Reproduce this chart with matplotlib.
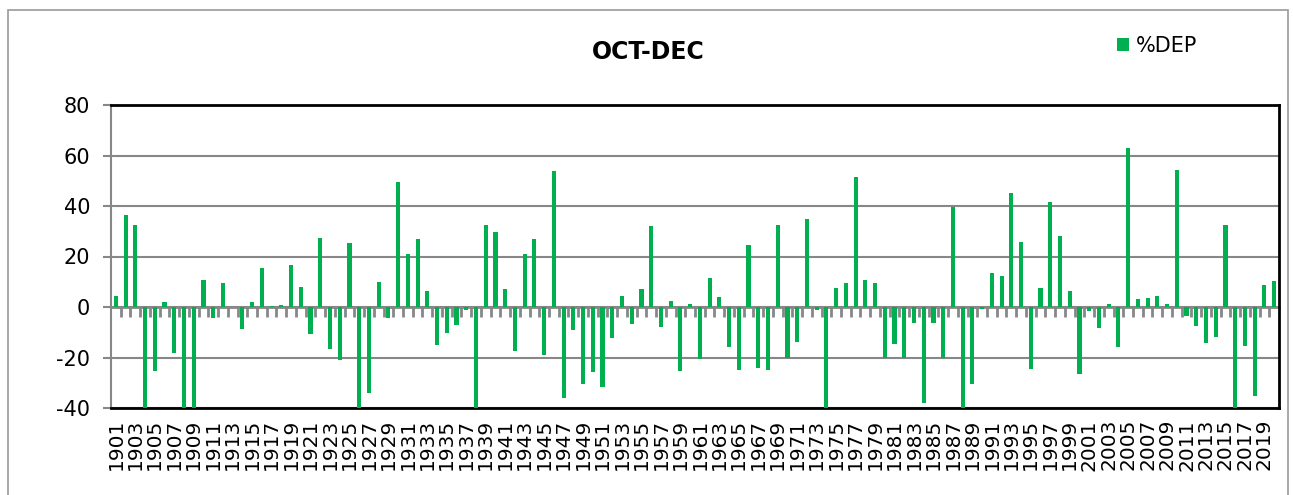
import numpy as np
import matplotlib
matplotlib.use('Agg')
import matplotlib.pyplot as plt
from matplotlib.patches import Rectangle

plt.rcParams['font.family'] = ['DejaVu Sans']
plt.rcParams['axes.unicode_minus'] = False

# OCT-DEC rainfall % departure, 1901-2020 (values below -40 are cut off by the axis)
years = list(range(1901, 2021))
dep = [
    4.4, 36.3, 32.6, -45, -25.5, 2.1, -18.1, -45, -45, 10.7,
    -4.2, 9.6, 0.0, -8.9, 2.1, 15.6, 0.5, 0.7, 16.8, 7.9,
    -10.6, 27.5, -16.5, -21.0, 25.2, -45, -34.0, 10.0, -4.4, 49.4,
    21.1, 26.8, 6.3, -14.9, -10.4, -7.3, -1.2, -45, 32.6, 29.6,
    7.0, -17.4, 21.1, 27.1, -19.0, 53.8, -36.2, -9.1, -30.5, -25.6,
    -31.8, -12.4, 4.4, -6.9, 7.0, 32.0, -7.8, 2.2, -25.2, 1.3,
    -20.5, 11.6, 4.1, -15.9, -24.8, 24.4, -24.0, -24.8, 32.6, -20.1,
    -14.0, 35.0, -1.1, -45, 7.7, 9.6, 51.5, 10.6, 9.4, -20.2,
    -14.7, -20.1, -6.3, -37.9, -6.2, -20.1, 39.6, -45, -30.4, -0.9,
    13.5, 12.2, 45.2, 25.8, -24.7, 7.4, 41.7, 28.3, 6.2, -26.7,
    -1.6, -8.2, 1.3, -15.7, 63.0, 3.0, 3.4, 4.2, 1.2, 54.3,
    -3.7, -7.4, -14.3, -11.9, 32.4, -45, -15.5, -35.1, 8.6, 10.3,
]
yticks = [-40, -20, 0, 20, 40, 60, 80]

bar_color = '#00B050'
grid_color = '#878787'

fig = plt.figure(figsize=(12.93, 4.95), dpi=100)
ax = fig.add_axes([111 / 1293, 1 - 408 / 495, 1168 / 1293, 303 / 495])

x = np.arange(len(years))
ax.bar(x, dep, width=0.42, color=bar_color, label='%DEP', zorder=3)

ax.set_xlim(-0.5, len(years) - 0.5)
ax.set_ylim(-40, 80)
ax.set_yticks(yticks)
ax.set_yticklabels([str(v) for v in yticks], fontsize=15)
ax.tick_params(axis='y', length=6, width=1.5, color=grid_color, pad=9)
ax.yaxis.grid(True, color=grid_color, linewidth=1.5, zorder=0)

ax.set_xticks(x[::2])
ax.set_xticklabels([str(y) for y in years[::2]], rotation=90, fontsize=14.5)
ax.tick_params(axis='x', length=0, pad=8)

for side in ['top', 'bottom', 'right']:
    ax.spines[side].set_color('black')
    ax.spines[side].set_linewidth(2)
ax.spines['left'].set_color(grid_color)
ax.spines['left'].set_linewidth(1.5)

# category axis sits on the zero line, with tick marks between the bars
zero_frac = (0 - yticks[0]) / (yticks[-1] - yticks[0])
sec = ax.secondary_xaxis(zero_frac)
sec.set_xticks(x[:-1] + 0.5)
sec.set_xticklabels([])
sec.tick_params(axis='x', direction='out', length=7, width=2, color=grid_color)
sec.spines['bottom'].set_color(grid_color)
sec.spines['bottom'].set_linewidth(2)
sec.spines['top'].set_visible(False)

fig.text(648 / 1293, 1 - 52 / 495, 'OCT-DEC', ha='center', va='center',
         fontsize=17, fontweight='bold')

ax.legend(loc='upper left', bbox_to_anchor=(1098 / 1293, 1 - 17 / 495),
          bbox_transform=fig.transFigure, frameon=False, fontsize=15,
          handlelength=0.6, handleheight=0.6, handletextpad=0.3)

fig.patches.append(Rectangle((8 / 1293, -0.05), 1280 / 1293, 1.05 - 10 / 495,
                             transform=fig.transFigure, fill=False,
                             edgecolor='#9a9a9a', linewidth=1.2))

fig.savefig('out.png', dpi=100)
plt.close(fig)
